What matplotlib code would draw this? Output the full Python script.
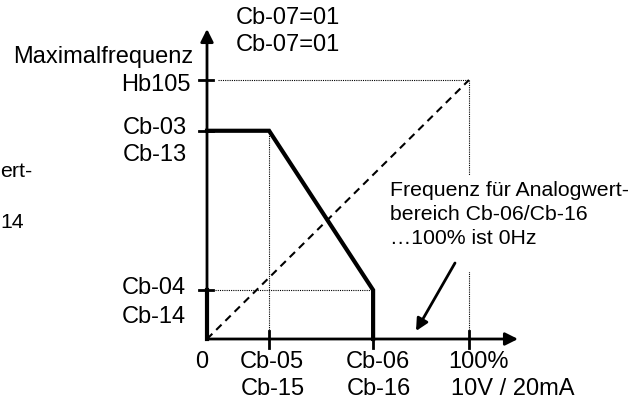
import matplotlib.pyplot as plt
from matplotlib.patches import FancyArrowPatch, Rectangle

plt.rcParams["font.family"] = ["Liberation Sans", "DejaVu Sans"]

W, H, DPI = 644, 403, 100
AX_FONT = 17
NOTE_FONT = 15.3
# pixel position of the origin and pixel size of one percent
X0, Y0 = 207, 339
SX, SY = 2.62, 2.59

# analog input, percent of the range
cb05 = 23.7
cb06 = 63.4
x_full = 100.0
# output frequency, percent of Hb105
cb04 = 18.9
cb03 = 80.4
hb105 = 100.0

x_ticks = [0.0, cb05, cb06, x_full]
x_labels = [["0"], ["Cb-05", "Cb-15"], ["Cb-06", "Cb-16"], ["100%", "10V / 20mA"]]
y_ticks = [cb04, cb03, hb105]
y_labels = [["Cb-04", "Cb-14"], ["Cb-03", "Cb-13"], ["Hb105"]]

curve_x = [0.0, cb05, cb06, cb06]
curve_y = [cb03, cb03, cb04, 0.0]
start_x = [0.0, 0.0]
start_y = [0.0, cb04]
diag_x = [0.0, x_full]
diag_y = [0.0, hb105]

# label offsets in pixels from the tick (per line)
X_LABEL_OFF = [[(-5, 23)], [(3, 23), (3.5, 50)], [(5, 23), (5.5, 50)], [(9.5, 23), (44, 50)]]
Y_LABEL_OFF = [[(-2), (27)], [(-3), (24)], [(5)]]
Y_LABEL_RIGHT = [186, 187, 191]


def dx(px):
    return (px - X0) / SX


def dy(py):
    return (Y0 - py) / SY


def label(ax, px, py, s, ha="center", size=AX_FONT):
    ax.text(dx(px), dy(py), s, ha=ha, va="center", fontsize=size)


def axis_arrow(ax, p, q):
    ax.add_patch(
        FancyArrowPatch(
            p, q, arrowstyle="-|>", mutation_scale=19, lw=2.0, color="black",
            shrinkA=0, shrinkB=0, zorder=4,
        )
    )


fig = plt.figure(figsize=(W / DPI, H / DPI), dpi=DPI)
ax = fig.add_axes([0, 0, 1, 1])
ax.axis("off")
ax.set_xlim(dx(0), dx(W))
ax.set_ylim(dy(H), dy(0))

dot = dict(color="black", lw=0.8, ls=(0, (1, 1)), zorder=1)
ax.plot([dx(X0 + 11), x_full], [hb105, hb105], **dot)
ax.plot([x_full, x_full], [hb105, dy(331)], **dot)
ax.plot([cb05, cb05], [cb03, dy(331)], **dot)
ax.plot([dx(X0 + 8), cb06], [cb04, cb04], **dot)

# white box behind the note text
ax.add_patch(Rectangle((dx(386), dy(272)), dx(560) - dx(386), dy(175) - dy(272),
                       facecolor="white", edgecolor="none", zorder=2))

ax.plot(diag_x, diag_y, color="black", lw=1.5, dashes=(3.6, 2.6), zorder=3)

axis_arrow(ax, (0, 0), (dx(518), 0))
axis_arrow(ax, (0, 0), (0, dy(29)))

for x in x_ticks[1:]:
    ax.plot([x, x], [dy(331), dy(348)], color="black", lw=2.0, zorder=4)
for y in y_ticks:
    ax.plot([dx(199), dx(213)], [y, y], color="black", lw=2.0, zorder=4)

ax.plot(curve_x, curve_y, color="black", lw=3.0, solid_joinstyle="miter", zorder=5)
ax.plot(start_x, start_y, color="black", lw=3.0, zorder=5)

for x, lines, offs in zip(x_ticks, x_labels, X_LABEL_OFF):
    for s, (ox, oy) in zip(lines, offs):
        label(ax, X0 + SX * x + ox, Y0 + oy, s)
for y, lines, offs, right in zip(y_ticks, y_labels, Y_LABEL_OFF, Y_LABEL_RIGHT):
    for s, oy in zip(lines, offs):
        label(ax, right, Y0 - SY * y + oy, s, ha="right")

label(ax, 193, 57, "Maximalfrequenz", ha="right")
label(ax, 236, 18, "Cb-07=01", ha="left")
label(ax, 236, 45, "Cb-07=01", ha="left")

note = ["Frequenz für Analogwert-", "bereich Cb-06/Cb-16", "…100% ist 0Hz"]
for i, s in enumerate(note):
    label(ax, 390, 191 + 23.5 * i, s, ha="left", size=NOTE_FONT)

# remains of a second note at the left border
label(ax, 0.5, 172, "ert-", ha="left", size=NOTE_FONT)
label(ax, 0.5, 222, "14", ha="left", size=NOTE_FONT)

ax.add_patch(
    FancyArrowPatch(
        (dx(455), dy(263)), (dx(416), dy(331)), arrowstyle="-|>", mutation_scale=18,
        lw=2.0, color="black", shrinkA=0, shrinkB=0, zorder=6,
    )
)

fig.savefig("out.png", dpi=DPI)
